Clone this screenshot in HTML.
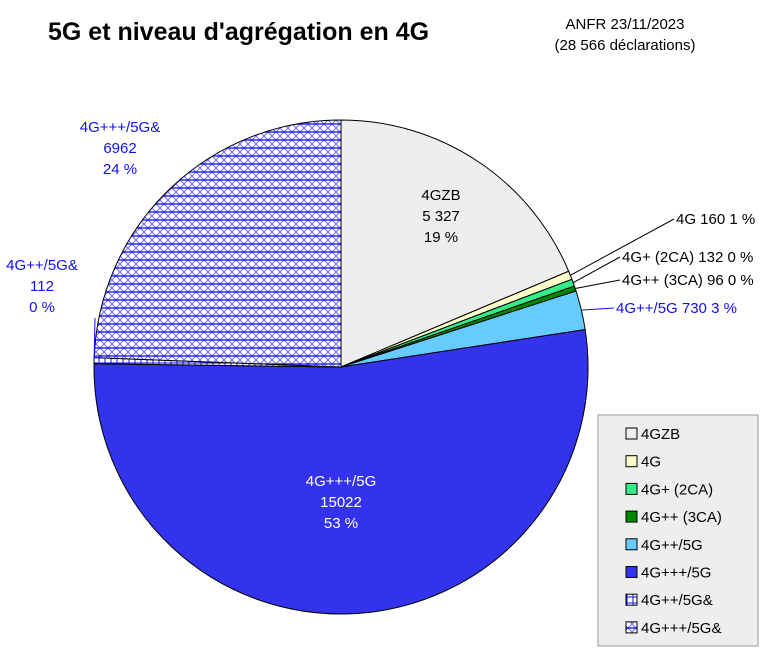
<!DOCTYPE html>
<html><head><meta charset="utf-8"><style>
body{margin:0;background:#fff;width:766px;height:653px;overflow:hidden;font-family:"Liberation Sans",sans-serif}
</style></head><body>
<svg width="766" height="653" font-family="Liberation Sans, sans-serif">
<defs>
<pattern id="hatchX" width="8" height="8" patternUnits="userSpaceOnUse">
<rect width="8" height="8" fill="#fff"/>
<path d="M0,0L8,8M8,0L0,8" stroke="#6a6aff" stroke-width="1"/>
<path d="M0,4H8" stroke="#1010e0" stroke-width="1.3"/>
</pattern>
<pattern id="hatchP" width="6" height="6" patternUnits="userSpaceOnUse">
<rect width="6" height="6" fill="#fff"/>
<path d="M0,3H6M3,0V6" stroke="#1010e0" stroke-width="1"/>
</pattern>
</defs>
<text x="48" y="40" font-size="25" font-weight="bold">5G et niveau d'agrégation en 4G</text>
<text x="625" y="29" font-size="15" text-anchor="middle">ANFR 23/11/2023</text>
<text x="625" y="50" font-size="15" text-anchor="middle">(28 566 déclarations)</text>
<g id="pie"></g>
<g id="labels"></g>
<g id="legend"></g>
</svg>
<script>
const categories=["4GZB","4G","4G+ (2CA)","4G++ (3CA)","4G++/5G","4G+++/5G","4G++/5G&","4G+++/5G&"];
const values=[5327,160,132,96,730,15022,112,6962];
const labelTexts=[["4GZB","5 327","19 %"],["4G 160 1 %"],["4G+ (2CA) 132 0 %"],["4G++ (3CA) 96 0 %"],["4G++/5G 730 3 %"],["4G+++/5G","15022","53 %"],["4G++/5G&","112","0 %"],["4G+++/5G&","6962","24 %"]];
const fills=["#eeeeee","#ffffcc","#33ee88","#008800","#66ccff","#3333ee","url(#hatchP)","url(#hatchX)"];
const NS="http://www.w3.org/2000/svg";
const cx=341,cy=367,R=247;
const total=values.reduce((a,b)=>a+b,0);
function pt(a,r){return [cx+r*Math.sin(a),cy-r*Math.cos(a)];}
const pie=document.getElementById('pie');
let acc=0;const mids=[];
values.forEach((v,i)=>{
 const a0=acc/total*2*Math.PI;acc+=v;const a1=acc/total*2*Math.PI;mids.push((a0+a1)/2);
 const p0=pt(a0,R),p1=pt(a1,R);
 const p=document.createElementNS(NS,'path');
 p.setAttribute('d',`M${cx},${cy}L${p0[0]},${p0[1]}A${R},${R} 0 ${a1-a0>Math.PI?1:0} 1 ${p1[0]},${p1[1]}Z`);
 p.setAttribute('fill',fills[i]);p.setAttribute('stroke','#000');p.setAttribute('stroke-width','1');
 
 
 pie.appendChild(p);
});
// label positions (layout only)
const lpos=[[441,200,'middle'],[676,224,'start'],[622,262,'start'],[622,285,'start'],[616,313,'start'],[341,486,'middle'],[42,270,'middle'],[120,132,'middle']];
const colors=["#000","#000","#000","#000","#1010ee","#fff","#1010ee","#1010ee"];
const lab=document.getElementById('labels');
labelTexts.forEach((lines,i)=>{
 const t=document.createElementNS(NS,'text');
 t.setAttribute('x',lpos[i][0]);t.setAttribute('y',lpos[i][1]);
 t.setAttribute('text-anchor',lpos[i][2]);t.setAttribute('font-size','15');t.setAttribute('fill',colors[i]);
 
 
 lines.forEach((s,j)=>{const ts=document.createElementNS(NS,'tspan');ts.setAttribute('x',lpos[i][0]);ts.setAttribute('dy',j?21:0);ts.textContent=s;t.appendChild(ts);});
 lab.appendChild(t);
 if(i>=1&&i<=4||i==6){
  const e=pt(mids[i],R);const l=document.createElementNS(NS,'line');
  const lx=i==6?95:lpos[i][0]-2, ly=i==6?lpos[i][1]+48:lpos[i][1]-5;
  l.setAttribute('x1',e[0]);l.setAttribute('y1',e[1]);l.setAttribute('x2',lx);l.setAttribute('y2',ly);
  l.setAttribute('stroke',colors[i]=="#fff"?"#000":colors[i]);l.setAttribute('stroke-width','1');
  
  
  lab.appendChild(l);
 }
});
const lg=document.getElementById('legend');
const box=document.createElementNS(NS,'rect');
box.setAttribute('x',598);box.setAttribute('y',415);box.setAttribute('width',160);box.setAttribute('height',231);
box.setAttribute('fill','#eeeeee');box.setAttribute('stroke','#999');


lg.appendChild(box);
categories.forEach((c,i)=>{
 const y=434+i*27.7;
 const r=document.createElementNS(NS,'rect');
 r.setAttribute('x',626);r.setAttribute('y',y-6);r.setAttribute('width',11);r.setAttribute('height',11);
 r.setAttribute('fill',fills[i]);r.setAttribute('stroke','#000');
 
 
 lg.appendChild(r);
 const t=document.createElementNS(NS,'text');
 t.setAttribute('x',641);t.setAttribute('y',y+5);t.setAttribute('font-size','15');t.textContent=c;
 
 
 lg.appendChild(t);
});
</script>
</body></html>
